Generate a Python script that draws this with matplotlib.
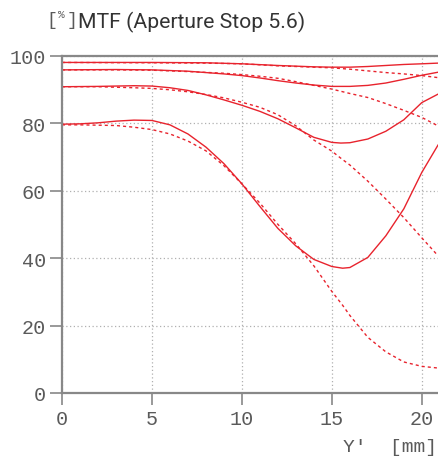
import matplotlib
matplotlib.use("Agg")
import matplotlib.pyplot as plt

# --- data (Y' in mm, MTF in %) ---
x_a = [0, 5, 8, 10, 12, 14, 15, 16, 17, 18, 19, 20, 20.9]
mtf_a_sag = [98.0, 98.0, 97.9, 97.6, 97.1, 96.7, 96.6, 96.6, 96.8, 97.1, 97.4, 97.6, 97.8]
mtf_a_mer = [98.0, 97.9, 97.8, 97.6, 97.0, 96.6, 96.4, 96.0, 95.5, 95.0, 94.6, 94.1, 93.5]

x_b = [0, 3, 5, 7, 9, 10, 11, 12, 13, 14, 15, 16, 17, 18, 19, 20, 20.9]
mtf_b_sag = [95.8, 95.9, 95.8, 95.4, 94.6, 94.1, 93.4, 92.6, 91.9, 91.3, 90.9, 90.9, 91.2, 91.9, 93.0, 94.2, 95.1]
mtf_b_mer = [95.8, 95.8, 95.7, 95.3, 94.8, 94.4, 93.9, 93.3, 92.3, 91.2, 90.1, 88.8, 87.6, 85.8, 83.8, 81.7, 79.2]

x_c = [0, 2, 4, 5, 6, 7, 8, 9, 10, 11, 12, 13, 14, 15, 15.5, 16, 17, 18, 19, 20, 20.9]
mtf_c_sag = [90.8, 90.9, 91.1, 91.0, 90.5, 89.7, 88.4, 86.9, 85.3, 83.5, 81.3, 78.6, 75.8, 74.3, 74.1, 74.2, 75.3, 77.6, 81.0, 86.1, 88.6]
mtf_c_mer = [90.8, 90.8, 90.5, 90.3, 89.9, 89.3, 88.5, 87.5, 86.2, 84.7, 82.5, 79.2, 75.0, 71.7, 69.6, 67.6, 62.8, 57.5, 52.0, 46.0, 40.7]

x_d = [0, 1, 2, 3, 4, 5, 6, 7, 8, 9, 10, 11, 12, 13, 14, 15, 15.6, 16, 17, 18, 19, 20, 20.9]
mtf_d_sag = [79.7, 79.8, 80.1, 80.6, 80.9, 80.8, 79.5, 76.8, 72.9, 68.0, 62.0, 55.3, 48.8, 43.6, 39.6, 37.5, 37.0, 37.2, 40.2, 46.6, 54.6, 65.4, 73.5]
mtf_d_mer = [79.5, 79.5, 79.4, 79.3, 78.8, 78.1, 76.8, 74.7, 71.8, 67.4, 62.0, 56.3, 50.0, 44.2, 37.7, 30.1, 26.0, 23.0, 16.5, 12.2, 9.2, 7.9, 7.4]

x_ticks = [0, 5, 10, 15, 20]
y_ticks = [0, 20, 40, 60, 80, 100]

RED = "#e8232d"
GRAY = "#5a5a5a"
MONO = "Liberation Mono"

fig = plt.figure(figsize=(4.38, 4.64), dpi=100)
ax = fig.add_axes([62 / 438, 70 / 464, 1 - 62 / 438, (394 - 56.7) / 464])

for xs, sag, mer in [(x_a, mtf_a_sag, mtf_a_mer), (x_b, mtf_b_sag, mtf_b_mer),
                     (x_c, mtf_c_sag, mtf_c_mer), (x_d, mtf_d_sag, mtf_d_mer)]:
    ax.plot(xs, sag, color=RED, lw=1.0)
    ax.plot(xs, mer, color=RED, lw=1.0, linestyle=(0, (2.2, 2.2)))

ax.set_xlim(0, 20.9)
ax.set_ylim(0, 100)
ax.set_xticks(x_ticks)
ax.set_yticks(y_ticks)
ax.grid(True, color="#b0b0b0", lw=0.9, linestyle=(0, (1, 2)))

for s in ["left", "bottom", "top"]:
    ax.spines[s].set_color("#888888")
    ax.spines[s].set_linewidth(1.6)
ax.spines["right"].set_visible(False)

ax.tick_params(axis="both", colors="#888888", length=8.5, width=1.2,
               labelcolor=GRAY, labelsize=14.5, pad=3)
for lab in ax.get_xticklabels() + ax.get_yticklabels():
    lab.set_fontfamily(MONO)

fig.text(437 / 438, 1 - 452 / 464, "Y'  [mm]", ha="right", va="baseline",
         fontsize=14, family=MONO, color=GRAY)

# unit marker: large brackets with a small raised percent sign
fig.text(46 / 438, 1 - 25 / 464, "[", ha="left", va="baseline",
         fontsize=13, family=MONO, color=GRAY)
fig.text(61 / 438, 1 - 18 / 464, "%", ha="center", va="baseline",
         fontsize=8, family=MONO, color=GRAY)
fig.text(77 / 438, 1 - 25 / 464, "]", ha="right", va="baseline",
         fontsize=13, family=MONO, color=GRAY)
fig.text(78 / 438, 1 - 28 / 464, "MTF (Aperture Stop 5.6)", ha="left", va="baseline",
         fontsize=15.2, family="Roboto", color="#333333")

fig.savefig("out.png", dpi=100)
